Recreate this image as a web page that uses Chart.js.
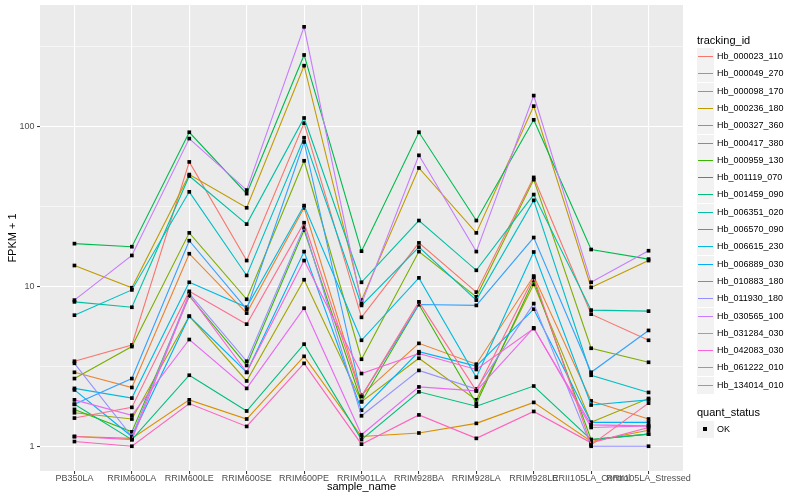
<!DOCTYPE html>
<html><head><meta charset="utf-8">
<script src="https://cdn.jsdelivr.net/npm/chart.js@4.4.1/dist/chart.umd.min.js"></script>
<style>
html,body{margin:0;padding:0;background:#fff;}
#wrap{position:relative;width:800px;height:500px;font-family:"Liberation Sans",Arial,sans-serif;overflow:hidden;}
#c{position:absolute;left:0;top:0;}
.lg-title{position:absolute;left:697px;font-size:11px;line-height:13px;color:#000;white-space:nowrap;}
.row{position:absolute;left:697px;width:100px;height:17px;}
.key{position:absolute;left:0;top:0;width:17px;height:17px;background:#F2F2F2;}
.key i{position:absolute;left:1px;width:15px;top:7.5px;height:1.6px;}
.key b{position:absolute;left:6px;top:6px;width:4px;height:4px;background:#000;}
.lab{position:absolute;left:20px;top:0;font-size:9px;line-height:17px;white-space:nowrap;color:#000;}
</style>
</head><body>
<div id="wrap">
<canvas id="c" width="800" height="500"></canvas>
<div id="legend"></div>
</div>
<script>
const sampleNames = ["PB350LA","RRIM600LA","RRIM600LE","RRIM600SE","RRIM600PE","RRIM901LA","RRIM928BA","RRIM928LA","RRIM928LE","RRII105LA_Control","RRII105LA_Stressed"];
const trackingIds = ["Hb_000023_110","Hb_000049_270","Hb_000098_170","Hb_000236_180","Hb_000327_360","Hb_000417_380","Hb_000959_130","Hb_001119_070","Hb_001459_090","Hb_006351_020","Hb_006570_090","Hb_006615_230","Hb_006889_030","Hb_010883_180","Hb_011930_180","Hb_030565_100","Hb_031284_030","Hb_042083_030","Hb_061222_010","Hb_134014_010"];
const seriesColors = ["#F8766D","#EA8331","#D89000","#C09B00","#A3A500","#7CAE00","#39B600","#00BB4E","#00BF7D","#00C1A3","#00BFC4","#00BAE0","#00B0F6","#35A2FF","#9590FF","#C77CFF","#E76BF3","#FA62DB","#FF62BC","#FF6C91"];

const hb000023_110 = [3.4, 4.3, 60, 14.5, 105, 6.4, 18.7, 9.2, 48, 6.7, 4.6];
const hb000049_270 = [2.9, 2.33, 16, 6.8, 31, 2.09, 4.4, 3.26, 11.6, 1.92, 1.48];
const hb000098_170 = [1.15, 1.12, 1.95, 1.48, 3.65, 1.15, 1.21, 1.39, 1.88, 1.07, 1.26];
const hb000236_180 = [13.5, 9.8, 50, 31, 240, 8.2, 55, 21.6, 134, 9.85, 14.5];
const hb000327_360 = [1.62, 1.48, 6.5, 2.56, 11, 1.9, 3.55, 1.95, 10.3, 1.41, 1.99];
const hb000417_380 = [2.65, 4.2, 21.6, 8.3, 61, 3.5, 16.5, 8.6, 46.5, 4.1, 3.35];
const hb000959_130 = [1.7, 1.23, 8.7, 3.2, 22.5, 1.9, 7.7, 1.85, 10.9, 1.1, 1.19];
const hb001119_070 = [18.5, 17.7, 92, 38, 280, 16.6, 92, 25.8, 110, 17, 14.8];
const hb001459_090 = [1.83, 1.1, 2.78, 1.66, 4.35, 1.1, 2.19, 1.78, 2.38, 1.1, 1.19];
const hb006351_020 = [8.0, 7.4, 49, 24.5, 113, 10.6, 25.8, 12.6, 37.5, 7.1, 7.0];
const hb006570_090 = [6.6, 9.5, 39, 11.7, 85, 7.6, 17.6, 8.2, 34.5, 2.78, 2.17];
const hb006615_230 = [2.3, 2.0, 10.6, 7.4, 32, 4.6, 11.3, 2.7, 16.4, 1.81, 1.95];
const hb006889_030 = [2.25, 1.15, 6.5, 2.9, 16.5, 1.68, 3.9, 3.17, 7.2, 1.41, 1.41];
const hb010883_180 = [1.83, 2.65, 19.3, 7.2, 80, 2.05, 7.7, 7.6, 20.2, 2.9, 5.3];
const hb011930_180 = [3.3, 1.15, 9.0, 3.4, 23.5, 1.55, 2.98, 2.28, 7.8, 1.0, 1.0];
const hb030565_100 = [8.2, 15.6, 84, 40, 420, 7.8, 66, 16.5, 156, 10.6, 16.7];
const hb031284_030 = [1.95, 1.56, 4.65, 2.3, 7.3, 1.18, 2.35, 2.22, 5.5, 1.31, 1.34];
const hb042083_030 = [1.15, 1.1, 8.8, 2.9, 14.5, 2.85, 3.8, 3.02, 5.45, 1.36, 1.34];
const hb061222_010 = [1.07, 1.0, 1.85, 1.33, 3.3, 1.03, 1.57, 1.12, 1.65, 1.05, 1.31];
const hb134014_010 = [1.5, 1.75, 9.3, 5.8, 25, 2.05, 8.0, 2.22, 11.4, 1.02, 1.86];

const seriesValues = [hb000023_110, hb000049_270, hb000098_170, hb000236_180, hb000327_360, hb000417_380, hb000959_130, hb001119_070, hb001459_090, hb006351_020, hb006570_090, hb006615_230, hb006889_030, hb010883_180, hb011930_180, hb030565_100, hb031284_030, hb042083_030, hb061222_010, hb134014_010];

const yMajorTicks = [1, 10, 100];
const yMinorTicks = [3.1623, 31.623, 316.23];

Chart.defaults.font.family = '"Liberation Sans", Arial, sans-serif';

const isMajor = v => yMajorTicks.some(t => Math.abs(t - v) < 1e-6);

const panelBg = {
  id: 'panelBg',
  beforeDraw(chart) {
    const {ctx, chartArea: a} = chart;
    ctx.save();
    ctx.fillStyle = '#EBEBEB';
    ctx.fillRect(a.left, a.top, a.right - a.left, a.bottom - a.top);
    ctx.restore();
  }
};

const datasets = seriesValues.map((vals, i) => ({
  label: trackingIds[i],
  data: vals.map((v, j) => ({x: j, y: v})),
  borderColor: seriesColors[i],
  backgroundColor: seriesColors[i],
  borderWidth: 1.1,
  pointStyle: 'rect',
  pointRadius: 2.6,
  pointBackgroundColor: '#000',
  pointBorderColor: '#000',
  pointBorderWidth: 0,
  tension: 0,
  clip: false,
  order: seriesValues.length - i
}));

new Chart(document.getElementById('c'), {
  type: 'line',
  data: {datasets},
  plugins: [panelBg],
  options: {
    responsive: false,
    animation: false,
    layout: {padding: {left: 0, top: 5, right: 117, bottom: 0}},
    plugins: {legend: {display: false}, tooltip: {enabled: false}},
    scales: {
      x: {
        type: 'linear',
        min: -0.6,
        max: 10.6,
        afterBuildTicks(scale) { scale.ticks = sampleNames.map((_, i) => ({value: i})); },
        afterFit(scale) { scale.height = 29; scale.paddingLeft = 0; scale.paddingRight = 0; scale.paddingTop = 0; scale.paddingBottom = 0; },
        ticks: {
          autoSkip: false, maxRotation: 0, minRotation: 0,
          color: '#4D4D4D', font: {size: 9}, padding: -1,
          callback: (v, i) => sampleNames[i]
        },
        grid: {color: '#FFFFFF', lineWidth: 1.1, tickColor: '#333333', tickLength: 3, tickWidth: 1},
        border: {display: false},
        title: {display: true, text: 'sample_name', color: '#000', font: {size: 11}, padding: {top: 0, bottom: 6}}
      },
      y: {
        type: 'logarithmic',
        min: 0.74,
        max: 575,
        afterBuildTicks(scale) {
          scale.ticks = yMajorTicks.concat(yMinorTicks).sort((a, b) => a - b).map(v => ({value: v}));
        },
        afterFit(scale) { scale.width = 40; scale.paddingTop = 0; scale.paddingBottom = 0; scale.paddingLeft = 0; scale.paddingRight = 0; },
        ticks: {
          color: '#4D4D4D', font: {size: 9}, padding: 2.5,
          callback: v => isMajor(v) ? String(Math.round(v)) : ''
        },
        grid: {
          color: '#FFFFFF',
          lineWidth: c => (c.tick && isMajor(c.tick.value)) ? 1.1 : 0.55,
          tickColor: c => (c.tick && isMajor(c.tick.value)) ? '#333333' : 'rgba(0,0,0,0)',
          tickLength: 3, tickWidth: 1
        },
        border: {display: false},
        title: {display: true, text: 'FPKM + 1', color: '#000', font: {size: 11}, padding: {top: 6, bottom: 0}}
      }
    }
  }
});

// HTML legend (ggplot-style)
const lg = document.getElementById('legend');
let html = '<div class="lg-title" style="top:34px">tracking_id</div>';
trackingIds.forEach((id, i) => {
  const top = Math.round(48 + i * 17.3);
  html += '<div class="row" style="top:' + top + 'px"><div class="key"><i style="background:' + seriesColors[i] + '"></i></div><div class="lab">' + id + '</div></div>';
});
html += '<div class="lg-title" style="top:406px">quant_status</div>';
html += '<div class="row" style="top:421px"><div class="key"><b></b></div><div class="lab">OK</div></div>';
lg.innerHTML = html;
</script>
</body></html>
